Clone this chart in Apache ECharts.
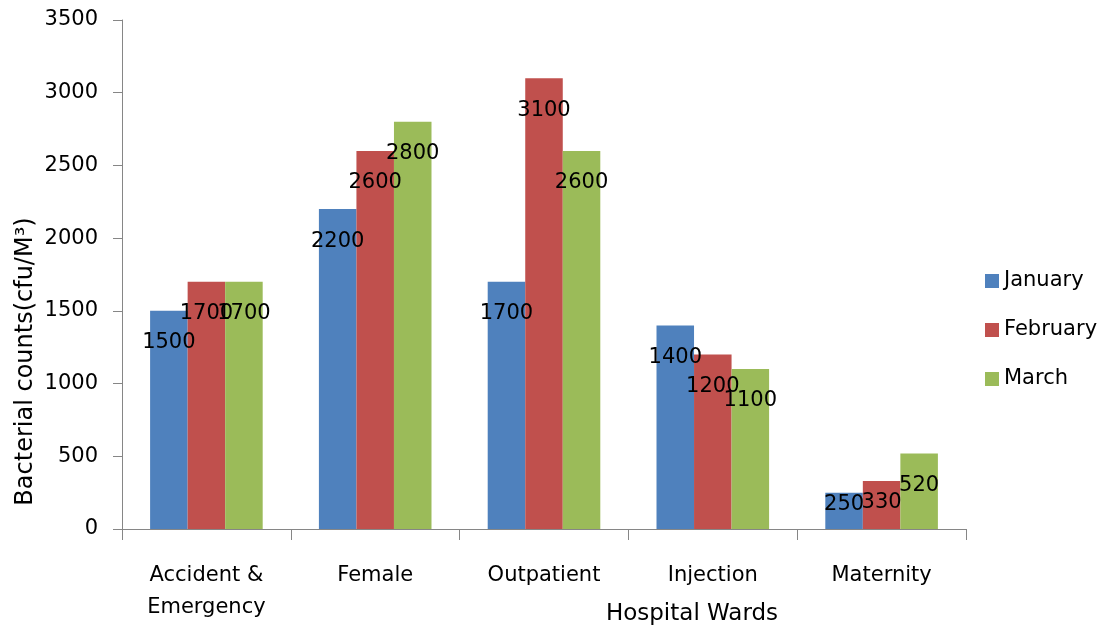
<!DOCTYPE html>
<html>
<head>
<meta charset="utf-8">
<script src="https://cdn.jsdelivr.net/npm/echarts@6/dist/echarts.min.js"></script>
<style>
html,body{margin:0;padding:0;background:#fff;}
#chart{width:1109px;height:627px;}
</style>
</head>
<body>
<div id="chart"></div>
<script>
// ---- data ----
var categories = ['Accident &\nEmergency', 'Female', 'Outpatient', 'Injection', 'Maternity'];
var seriesNames = ['January', 'February', 'March'];
var january = [1500, 2200, 1700, 1400, 250];
var february = [1700, 2600, 3100, 1200, 330];
var march = [1700, 2800, 2600, 1100, 520];
var yTicks = [0, 500, 1000, 1500, 2000, 2500, 3000, 3500];
var xAxisTitle = 'Hospital Wards';
var yAxisTitle = 'Bacterial counts(cfu/M\u00B3)';

// ---- styling ----
var FONT = 'DejaVu Sans';
var colors = ['#4F81BD', '#C0504D', '#9BBB59'];
var defaultLabelDistance = 21;
// Excel nudged a couple of labels on the short Maternity bars: [seriesIndex, categoryIndex, distance]
var labelDistanceOverrides = [[0, 4, 1], [1, 4, 11]];

function buildData(values, si) {
  return values.map(function (v, ci) {
    var item = { value: v };
    labelDistanceOverrides.forEach(function (o) {
      if (o[0] === si && o[1] === ci) item.label = { distance: o[2] };
    });
    return item;
  });
}

var allValues = [january, february, march];
var series = allValues.map(function (vals, si) {
  return {
    name: seriesNames[si],
    type: 'bar',
    barGap: '0%',
    barCategoryGap: '33.3%',
    itemStyle: { color: colors[si] },
    label: {
      show: true,
      position: 'insideTop',
      distance: defaultLabelDistance,
      color: '#000',
      fontFamily: FONT,
      fontSize: 21,
      lineHeight: 22
    },
    emphasis: { disabled: true },
    data: buildData(vals, si)
  };
});

var chart = echarts.init(document.getElementById('chart'), null, { renderer: 'canvas' });
chart.setOption({
  animation: false,
  color: colors,
  textStyle: { fontFamily: FONT },
  grid: { left: 122, right: 143, top: 20, bottom: 98, containLabel: false, outerBoundsMode: 'none' },
  legend: {
    orient: 'vertical',
    left: 985,
    top: 270,
    padding: 0,
    itemWidth: 14,
    itemHeight: 14,
    itemGap: 27,
    icon: 'rect',
    data: seriesNames,
    textStyle: { fontFamily: FONT, fontSize: 21, color: '#000', lineHeight: 22 }
  },
  xAxis: {
    type: 'category',
    data: categories,
    name: xAxisTitle,
    nameLocation: 'middle',
    nameGap: 74,
    nameMoveOverlap: false,
    nameTextStyle: {
      fontFamily: FONT, fontSize: 23, color: '#000',
      padding: [0, 0, 0, 296]
    },
    axisLine: { lineStyle: { color: '#868686', width: 1 } },
    axisTick: { show: true, length: 11, lineStyle: { color: '#868686' } },
    axisLabel: {
      fontFamily: FONT, fontSize: 21, color: '#000',
      lineHeight: 32, margin: 31, interval: 0
    },
    splitLine: { show: false }
  },
  yAxis: {
    type: 'value',
    min: yTicks[0],
    max: yTicks[yTicks.length - 1],
    interval: yTicks[1] - yTicks[0],
    name: yAxisTitle,
    nameLocation: 'middle',
    nameGap: 84,
    nameRotate: 90,
    nameMoveOverlap: false,
    nameTextStyle: {
      fontFamily: FONT, fontSize: 24, color: '#000',
      padding: [0, 174, 0, 0]
    },
    axisLine: { show: true, lineStyle: { color: '#868686', width: 1 } },
    axisTick: { show: true, length: 9, lineStyle: { color: '#868686' } },
    axisLabel: {
      fontFamily: FONT, fontSize: 21, color: '#000', margin: 24,
      padding: [4, 0, 0, 0],
      formatter: function (v) { return String(v); }
    },
    splitLine: { show: false }
  },
  series: series
});
</script>
</body>
</html>
